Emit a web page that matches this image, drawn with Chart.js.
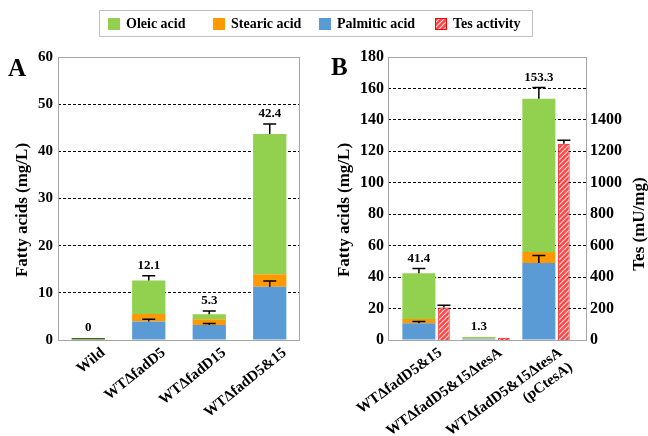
<!DOCTYPE html>
<html><head><meta charset="utf-8">
<script src="https://cdn.jsdelivr.net/npm/chart.js@4/dist/chart.umd.min.js"></script>
<style>
html,body{margin:0;padding:0;background:#fff;}
#wrap{position:relative;width:648px;height:436px;overflow:hidden;font-family:"Liberation Serif","Times New Roman",serif;color:#000;}
canvas{position:absolute;top:0;}
#ca{left:0;}
#cb{left:324px;}
#legend{position:absolute;left:99px;top:10px;width:432px;height:25px;border:1px solid #c0c0c0;font-weight:bold;font-size:14px;}
.item{position:absolute;top:0;height:25px;display:flex;align-items:center;white-space:nowrap;}
.sw{width:12px;height:12px;margin-right:6px;display:inline-block;}
.panel{position:absolute;font-weight:bold;font-size:25px;line-height:25px;}
</style></head>
<body>
<div id="wrap">
<canvas id="ca" width="324" height="436"></canvas>
<canvas id="cb" width="324" height="436"></canvas>
<div id="legend"></div>
<div class="panel" style="left:8px;top:55px;">A</div>
<div class="panel" style="left:331px;top:54px;">B</div>
</div>
<script>
// ---------- data ----------
const catsA = ['Wild', 'WTΔfadD5', 'WTΔfadD15', 'WTΔfadD5&15'];
const palmA = [0, 3.9, 3.2, 11.3];
const stearA = [0, 1.6, 1.2, 2.65];
const oleicA = [0.4, 7.1, 1.05, 29.75];
const palmErrA = [0, 0.5, 0.3, 1.2];
const totErrA = [0, 1.0, 0.7, 2.1];
const totLabA = ['0', '12.1', '5.3', '42.4'];

const catsB = [['WTΔfadD5&15'], ['WTΔfadD5&15ΔtesA'], ['WTΔfadD5&15ΔtesA', '(pCtesA)']];
const palmB = [10.6, 0.8, 49.0];
const stearB = [2.8, 0.2, 7.0];
const oleicB = [29.0, 0.9, 97.4];
const tesB = [206, 15, 1248];
const palmErrB = [1.1, 0, 4.7];
const totErrB = [3.0, 0, 7.2];
const tesErrB = [15, 0, 23];
const totLabB = ['41.4', '1.3', '153.3'];

const ticksA = [0, 10, 20, 30, 40, 50, 60];
const ticksB = [0, 20, 40, 60, 80, 100, 120, 140, 160, 180];
const ticksTes = [0, 200, 400, 600, 800, 1000, 1200, 1400];

const seriesNames = ['Oleic acid', 'Stearic acid', 'Palmitic acid', 'Tes activity'];
const yTitleFA = 'Fatty acids (mg/L)';
const yTitleTes = 'Tes (mU/mg)';

// ---------- styles ----------
const FF = '"Liberation Serif","Times New Roman",serif';
const GREEN = '#92d050', ORANGE = '#ff9900', BLUE = '#5b9bd5', DARKGREEN = '#3a6a1a';

function hatchCanvas() {
  const c = document.createElement('canvas'); c.width = 5; c.height = 5;
  const g = c.getContext('2d');
  g.fillStyle = '#ff4242'; g.fillRect(0, 0, 5, 5);
  g.strokeStyle = 'rgba(255,225,225,1)'; g.lineWidth = 1.2;
  g.beginPath();
  g.moveTo(0, 5); g.lineTo(5, 0);
  g.moveTo(-2.5, 2.5); g.lineTo(2.5, -2.5);
  g.moveTo(2.5, 7.5); g.lineTo(7.5, 2.5);
  g.stroke();
  return c;
}
const hc = hatchCanvas();
const HATCH = document.getElementById('cb').getContext('2d').createPattern(hc, 'repeat');

// ---------- legend ----------
const legendPos = [8, 113, 219, 335];
const legendCol = [GREEN, ORANGE, BLUE, null];
const leg = document.getElementById('legend');
seriesNames.forEach((n, i) => {
  const it = document.createElement('div'); it.className = 'item'; it.style.left = legendPos[i] + 'px';
  let sw;
  if (legendCol[i]) { sw = document.createElement('span'); sw.style.background = legendCol[i]; }
  else {
    sw = document.createElement('canvas'); sw.width = 12; sw.height = 12; sw.style.position = 'static';
    const g = sw.getContext('2d'); g.fillStyle = g.createPattern(hc, 'repeat'); g.fillRect(0, 0, 12, 12);
    g.strokeStyle = '#ff0000'; g.strokeRect(0.5, 0.5, 11, 11);
  }
  sw.className = 'sw';
  it.appendChild(sw);
  const t = document.createElement('span'); t.textContent = n; it.appendChild(t);
  leg.appendChild(it);
});

// ---------- plugins ----------
const frame = {
  id: 'frame',
  beforeDatasetsDraw(chart) {
    const a = chart.chartArea, c = chart.ctx;
    c.save(); c.strokeStyle = '#a6a6a6'; c.lineWidth = 1;
    c.strokeRect(Math.round(a.left) + 0.5, Math.round(a.top) + 0.5, Math.round(a.right - a.left) - 1, Math.round(a.bottom - a.top));
    c.restore();
  }
};
const annot = {
  id: 'annot',
  afterDatasetsDraw(chart, args, o) {
    const c = chart.ctx; c.save();
    c.strokeStyle = '#000'; c.lineWidth = 1.5;
    (o.bars || []).forEach(b => {
      const meta = chart.getDatasetMeta(b.ds); const ys = chart.scales[meta.yAxisID];
      meta.data.forEach((el, i) => {
        const e = b.err[i]; if (!e) return;
        const d = ys.getPixelForValue(0) - ys.getPixelForValue(e);
        const top = el.y - d;
        c.beginPath(); c.moveTo(el.x, el.y); c.lineTo(el.x, top);
        c.moveTo(el.x - 6.5, top); c.lineTo(el.x + 6.5, top); c.stroke();
      });
    });
    if (o.labels) {
      const L = o.labels; const meta = chart.getDatasetMeta(L.ds); const ys = chart.scales[meta.yAxisID];
      c.fillStyle = '#000'; c.font = 'bold 13px ' + FF; c.textAlign = 'center'; c.textBaseline = 'middle';
      meta.data.forEach((el, i) => {
        const d = ys.getPixelForValue(0) - ys.getPixelForValue(L.err[i]);
        c.fillText(L.text[i], el.x, el.y - d - 10);
      });
    }
    (o.titles || []).forEach(t => {
      c.save(); c.fillStyle = '#000'; c.font = 'bold 17px ' + FF; c.textAlign = 'center'; c.textBaseline = 'middle';
      c.translate(t.x, t.y); c.rotate(-Math.PI / 2); c.fillText(t.text, 0, 0); c.restore();
    });
    c.restore();
  }
};

const gridColor = (max) => (ctx) => (ctx.tick && ctx.tick.value > 0 && ctx.tick.value < max) ? '#000' : 'rgba(0,0,0,0)';

// ---------- chart A ----------
new Chart(document.getElementById('ca'), {
  type: 'bar',
  data: {
    labels: catsA,
    datasets: [
      { label: seriesNames[2], data: palmA, backgroundColor: BLUE },
      { label: seriesNames[1], data: stearA, backgroundColor: ORANGE },
      { label: seriesNames[0], data: oleicA, backgroundColor: oleicA.map(v => v < 1 ? DARKGREEN : GREEN) }
    ]
  },
  options: {
    responsive: false, animation: false, devicePixelRatio: 1,
    layout: { padding: { top: 57, right: 24, left: 0, bottom: 0 } },
    datasets: { bar: { categoryPercentage: 0.55, barPercentage: 1 } },
    plugins: {
      legend: { display: false }, tooltip: { enabled: false },
      annot: {
        bars: [{ ds: 0, err: palmErrA }, { ds: 2, err: totErrA }],
        labels: { ds: 2, err: totErrA, text: totLabA },
        titles: [{ text: yTitleFA, x: 23, y: 210 }]
      }
    },
    scales: {
      x: {
        stacked: true,
        grid: { display: false }, border: { display: false },
        ticks: { color: '#000', font: { family: FF, weight: 'bold', size: 15 }, minRotation: 39, maxRotation: 39, autoSkip: false, labelOffset: 15, padding: -4 },
        afterFit(s) { s.height = 96; }
      },
      y: {
        stacked: true, min: 0, max: 60,
        afterBuildTicks(s) { s.ticks = ticksA.map(v => ({ value: v })); },
        grid: { color: gridColor(60), drawTicks: false, lineWidth: 1 },
        border: { display: false, dash: [3, 2] },
        ticks: { color: '#000', padding: 5, font: { family: FF, weight: 'bold', size: 15 } },
        afterFit(s) { s.width = 58; }
      }
    }
  },
  plugins: [frame, annot]
});

// ---------- chart B ----------
const pts = (arr) => arr.map((v, i) => ({ x: i, y: v }));
new Chart(document.getElementById('cb'), {
  type: 'bar',
  data: {
    datasets: [
      { label: seriesNames[2], data: pts(palmB), backgroundColor: BLUE, stack: 'fa', yAxisID: 'y', barPercentage: 1.32 },
      { label: seriesNames[1], data: pts(stearB), backgroundColor: ORANGE, stack: 'fa', yAxisID: 'y', barPercentage: 1.32 },
      { label: seriesNames[0], data: pts(oleicB), backgroundColor: GREEN, stack: 'fa', yAxisID: 'y', barPercentage: 1.32 },
      { label: seriesNames[3], data: pts(tesB), backgroundColor: HATCH, borderColor: '#ff0000', borderWidth: 1, stack: 'tes', yAxisID: 'y1', barPercentage: 0.46 }
    ]
  },
  options: {
    responsive: false, animation: false, devicePixelRatio: 1,
    layout: { padding: { top: 57, right: 0, left: 0, bottom: 0 } },
    datasets: { bar: { categoryPercentage: 0.835 } },
    plugins: {
      legend: { display: false }, tooltip: { enabled: false },
      annot: {
        bars: [{ ds: 0, err: palmErrB }, { ds: 2, err: totErrB }, { ds: 3, err: tesErrB }],
        labels: { ds: 2, err: totErrB, text: totLabB },
        titles: [{ text: yTitleFA, x: 21, y: 210 }, { text: yTitleTes, x: 316, y: 224 }]
      }
    },
    scales: {
      x: {
        type: 'linear', stacked: true, min: -0.724, max: 2.594, offset: false,
        afterBuildTicks(s) { s.ticks = catsB.map((c, i) => ({ value: i })); },
        grid: { display: false }, border: { display: false },
        ticks: { color: '#000', font: { family: FF, weight: 'bold', size: 15 }, minRotation: 36, maxRotation: 36, autoSkip: false, labelOffset: 9, padding: -4,
          callback: (v) => catsB[v] },
        afterFit(s) { s.height = 96; }
      },
      y: {
        stacked: true, min: 0, max: 180, position: 'left',
        afterBuildTicks(s) { s.ticks = ticksB.map(v => ({ value: v })); },
        grid: { color: gridColor(180), drawTicks: false, lineWidth: 1 },
        border: { display: false, dash: [3, 2] },
        ticks: { color: '#000', padding: 4, font: { family: FF, weight: 'bold', size: 16 } },
        afterFit(s) { s.width = 64; }
      },
      y1: {
        stacked: true, min: 0, max: 1800, position: 'right',
        afterBuildTicks(s) { s.ticks = ticksTes.map(v => ({ value: v })); },
        grid: { display: false, drawTicks: false }, border: { display: false },
        ticks: { color: '#000', padding: 3, font: { family: FF, weight: 'bold', size: 16 }, callback: (v) => String(v) },
        afterFit(s) { s.width = 61; }
      }
    }
  },
  plugins: [frame, annot]
});
</script>
</body></html>
